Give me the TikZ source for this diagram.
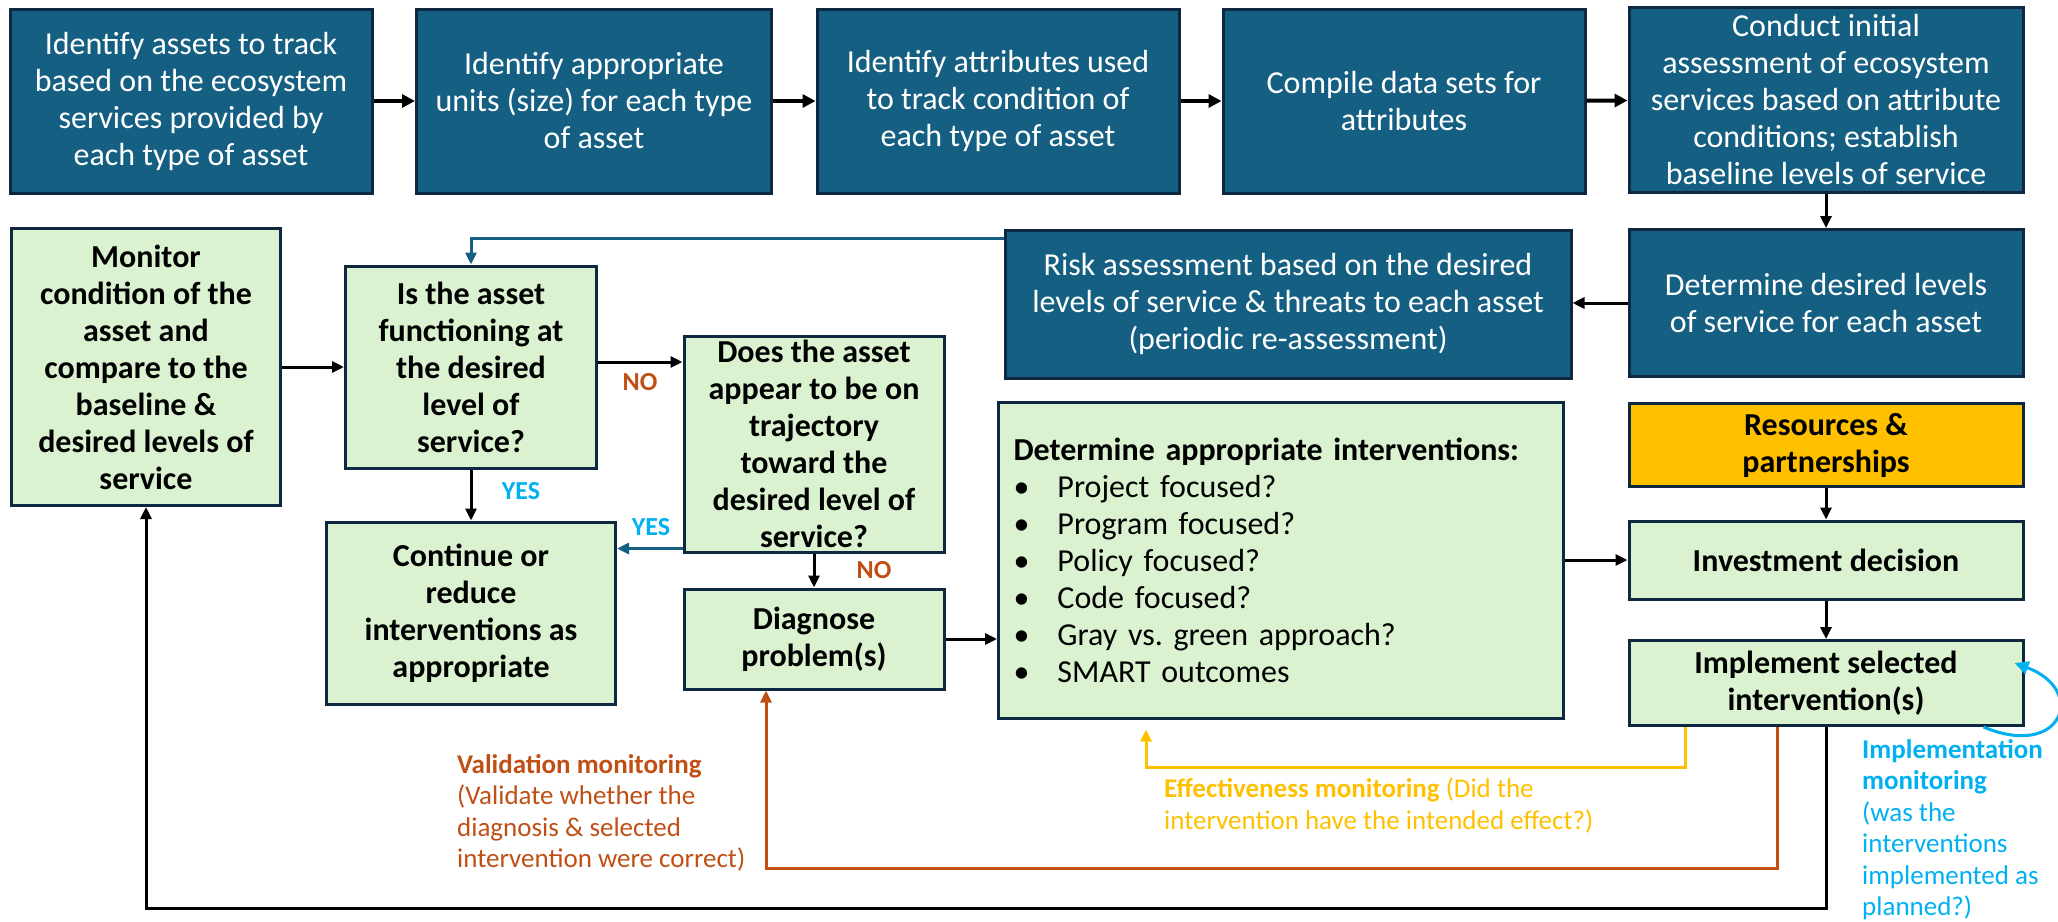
\documentclass[tikz,border=0pt]{standalone}
\usepackage{fontspec}
\setmainfont{Carlito}
\usetikzlibrary{arrows.meta}
\definecolor{darkteal}{HTML}{156082}
\definecolor{navyline}{HTML}{0E2841}
\definecolor{palegreen}{HTML}{DAF2D0}
\definecolor{gold}{HTML}{FFC000}
\definecolor{rust}{HTML}{C04F15}
\definecolor{skyblue}{HTML}{00B0F0}

\begin{document}
\begin{tikzpicture}[x=1pt,y=-1pt,
  topbox/.style={draw=navyline, line width=3pt, fill=darkteal, text=white, align=center, inner sep=0pt, minimum height=184pt, font=\fontsize{32}{37}\selectfont},
  greenbox/.style={draw=navyline, line width=3pt, fill=palegreen, align=center, inner sep=0pt, font=\bfseries\fontsize{32}{37}\selectfont},
  flow/.style={line width=3pt, -{Triangle[length=12pt,width=11pt]}},
  bigflow/.style={line width=4pt, -{Triangle[length=13pt,width=13pt]}},
  answer/.style={font=\bfseries\fontsize{26}{30}\selectfont},
  remark/.style={anchor=north west, align=left, inner sep=0pt, font=\fontsize{27}{31.5}\selectfont}]
  \useasboundingbox (0,0) rectangle (2058,921);

  \node[topbox, minimum width=362pt] (assets) at (191,101) {Identify assets to track\\based on the ecosystem\\services provided by\\each type of asset};
  \node[topbox, minimum width=355pt] (units) at (594,101) {Identify appropriate\\units (size) for each type\\of asset};
  \node[topbox, minimum width=362pt] (attrs) at (998,101) {Identify attributes used\\to track condition of\\each type of asset};
  \node[topbox, minimum width=362pt] (datasets) at (1404,101) {Compile data sets for\\attributes};
  \node[topbox, minimum width=394pt, minimum height=185pt] (initial) at (1826,100) {Conduct initial\\assessment of ecosystem\\services based on attribute\\conditions; establish\\baseline levels of service};
  \node[topbox, minimum width=394pt, minimum height=147pt] (desired) at (1826,303) {Determine desired levels\\of service for each asset};
  \node[topbox, minimum width=566pt, minimum height=148pt] (risk) at (1288,304) {Risk assessment based on the desired\\levels of service \& threats to each asset\\(periodic re-assessment)};

  \node[greenbox, minimum width=269pt, minimum height=277pt] (monitor) at (146,367) {Monitor\\condition of the\\asset and\\compare to the\\baseline \&\\desired levels of\\service};
  \node[greenbox, minimum width=251pt, minimum height=202pt] (functioning) at (471,367) {Is the asset\\functioning at\\the desired\\level of\\service?};
  \node[greenbox, minimum width=260pt, minimum height=216pt] (trajectory) at (814,444) {Does the asset\\appear to be on\\trajectory\\toward the\\desired level of\\service?};
  \node[greenbox, minimum width=289pt, minimum height=182pt] (continue) at (471,613) {Continue or\\reduce\\interventions as\\appropriate};
  \node[greenbox, minimum width=260pt, minimum height=100pt] (diagnose) at (814,639) {Diagnose\\problem(s)};
  \node[greenbox, minimum width=565pt, minimum height=316pt, text width=535pt, align=left, inner xsep=15pt, font=\fontsize{32}{37}\selectfont] (interventions) at (1281,560) {\textbf{Determine appropriate interventions:}\\
    \makebox[44pt][l]{\textbullet}Project focused?\\
    \makebox[44pt][l]{\textbullet}Program focused?\\
    \makebox[44pt][l]{\textbullet}Policy focused?\\
    \makebox[44pt][l]{\textbullet}Code focused?\\
    \makebox[44pt][l]{\textbullet}Gray vs.\ green approach?\\
    \makebox[44pt][l]{\textbullet}SMART outcomes};
  \node[greenbox, fill=gold, minimum width=394pt, minimum height=83pt] (resources) at (1826,445) {Resources \&\\partnerships};
  \node[greenbox, minimum width=394pt, minimum height=78pt] (investment) at (1826,560) {Investment decision};
  \node[greenbox, minimum width=394pt, minimum height=85pt] (implement) at (1826,683) {Implement selected\\intervention(s)};

  \draw[bigflow] (assets) -- (units);
  \draw[bigflow] (units) -- (attrs);
  \draw[bigflow] (attrs) -- (datasets);
  \draw[bigflow] (datasets) -- (initial);
  \draw[flow] (initial) -- (desired);
  \draw[flow] (desired.west) -- (desired.west -| risk.east);
  \draw[flow, darkteal] ([yshift=-10pt]risk.north west) -| (functioning.north);
  \draw[flow] (monitor.east) -- (monitor.east -| functioning.west);
  \coordinate (nostart) at ([yshift=5pt]functioning.east);
  \draw[flow] (nostart) -- (nostart -| trajectory.west);
  \draw[flow] (functioning) -- (continue);
  \coordinate (yesstart) at ([yshift=5pt]trajectory.south west);
  \draw[flow, darkteal] (yesstart) -- (yesstart -| continue.east);
  \draw[flow] (trajectory) -- (diagnose);
  \draw[flow] (diagnose.east) -- (diagnose.east -| interventions.west);
  \draw[flow] (interventions) -- (investment);
  \draw[flow] (resources) -- (investment);
  \draw[flow] (investment) -- (implement);

  \coordinate (effturn) at (1146,767);
  \draw[flow, gold, shorten >=10pt] ([xshift=-141pt]implement.south) |- (effturn) -- (effturn |- interventions.south);
  \coordinate (valturn) at (766,868);
  \draw[flow, rust] ([xshift=-49pt]implement.south) |- (valturn) -- (valturn |- diagnose.south);
  \coordinate (monturn) at (146,908);
  \draw[flow] (implement.south) |- (monturn) -- (monturn |- monitor.south);
  \draw[line width=3pt, skyblue, -{Triangle[length=14pt,width=13pt]}] ([xshift=-41pt]implement.south east) .. controls +(79,33) and +(73,27) .. ([xshift=-10pt,yshift=20pt]implement.east);

  \node[answer, text=rust] (no1) at (640,382) {NO};
  \node[answer, text=skyblue] (yes1) at (521,491) {YES};
  \node[answer, text=skyblue] (yes2) at (651,527) {YES};
  \node[answer, text=rust] (no2) at (874,570) {NO};

  \node[remark, text=rust] (valnote) at (457,754) {\textbf{Validation monitoring}\\(Validate whether the\\diagnosis \& selected\\intervention were correct)};
  \node[remark, text=gold] (effnote) at (1164,778) {\textbf{Effectiveness monitoring} (Did the\\intervention have the intended effect?)};
  \node[remark, text=skyblue] (impnote) at (1862,739) {\textbf{Implementation}\\\textbf{monitoring}\\(was the\\interventions\\implemented as\\planned?)};
\end{tikzpicture}
\end{document}
